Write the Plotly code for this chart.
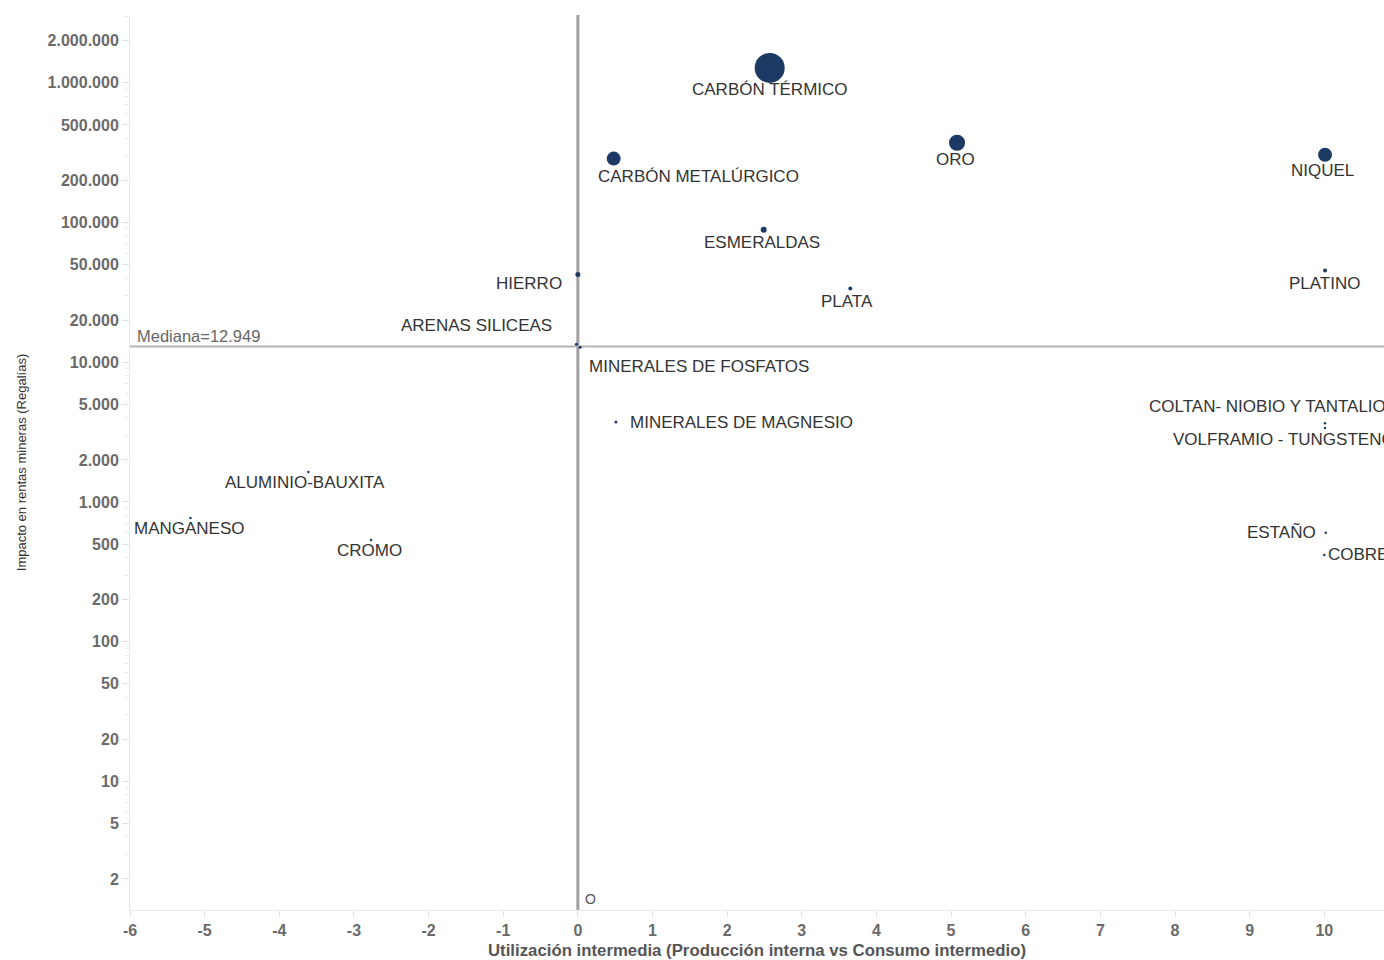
import math
import plotly.graph_objects as go

# ---- data ----
minerales = ["CARBÓN TÉRMICO", "CARBÓN METALÚRGICO", "ORO", "NIQUEL", "ESMERALDAS",
             "HIERRO", "PLATA", "PLATINO", "ARENAS SILICEAS", "MINERALES DE FOSFATOS",
             "MINERALES DE MAGNESIO", "COLTAN- NIOBIO Y TANTALIO", "VOLFRAMIO - TUNGSTENO",
             "ALUMINIO-BAUXITA", "MANGANESO", "CROMO", "ESTAÑO", "COBRE"]
utilizacion = [2.57, 0.48, 5.08, 10.01, 2.49,
               0.0, 3.65, 10.01, -0.02, 0.03,
               0.51, 10.01, 10.01,
               -3.61, -5.19, -2.77, 10.02, 10.0]
regalias = [1280000, 287000, 373000, 306000, 89000,
            42500, 33800, 45400, 13450, 12800,
            3730, 3660, 3380,
            1640, 769, 535, 601, 418]
tamano = [30, 14, 16, 14, 6,
          5, 4, 4, 3, 3,
          3, 2.5, 2.5,
          2.5, 2.5, 2.5, 2.5, 2.5]
mediana = 12949
y_ticks = [2, 5, 10, 20, 50, 100, 200, 500, 1000, 2000, 5000, 10000, 20000,
           50000, 100000, 200000, 500000, 1000000, 2000000]
x_ticks = [-6, -5, -4, -3, -2, -1, 0, 1, 2, 3, 4, 5, 6, 7, 8, 9, 10]

# label placement (pixel offsets, anchor) per mineral
label_pos = {
    "CARBÓN TÉRMICO": (0, -22, "center"),
    "CARBÓN METALÚRGICO": (85, -18, "center"),
    "ORO": (-2, -17, "center"),
    "NIQUEL": (-3, -16, "center"),
    "ESMERALDAS": (-2, -13, "center"),
    "HIERRO": (-14, -9, "right"),
    "PLATA": (-3, -13, "center"),
    "PLATINO": (-1, -13, "center"),
    "ARENAS SILICEAS": (-22, 19, "right"),
    "MINERALES DE FOSFATOS": (7, -19, "left"),
    "MINERALES DE MAGNESIO": (12, 0, "left"),
    "COLTAN- NIOBIO Y TANTALIO": (-178, 17, "left"),
    "VOLFRAMIO - TUNGSTENO": (-154, -11, "left"),
    "ALUMINIO-BAUXITA": (-3, -11, "center"),
    "MANGANESO": (-1, -11, "center"),
    "CROMO": (-2, -11, "center"),
    "ESTAÑO": (-8, 0, "right"),
    "COBRE": (2, 0, "left"),
}

navy = "#1c3a64"
label_font = dict(family="Liberation Sans, Arial, sans-serif", size=17, color="#333333")

fig = go.Figure()
fig.add_trace(go.Scatter(
    x=utilizacion, y=regalias, mode="markers",
    marker=dict(size=tamano, color=navy, opacity=1, line=dict(width=0)),
    text=minerales, hoverinfo="text", showlegend=False,
))

annotations = []
for name, xv, yv in zip(minerales, utilizacion, regalias):
    dx, dy, anc = label_pos[name]
    annotations.append(dict(x=xv, y=math.log10(yv), yref="y", xref="x", text=name, showarrow=False,
                            xshift=dx, yshift=dy, xanchor=anc, yanchor="middle",
                            font=label_font))
annotations.append(dict(x=-6, y=math.log10(mediana), xref="x", yref="y", text="Mediana=12.949",
                        showarrow=False, xanchor="left", yanchor="bottom", xshift=5, yshift=0,
                        font=dict(family="Liberation Sans, Arial, sans-serif", size=16.5, color="#666666")))
annotations.append(dict(x=0, y=math.log10(1.44), xref="x", yref="y", text="O", showarrow=False,
                        xanchor="left", xshift=5,
                        font=dict(family="Liberation Sans, Arial, sans-serif", size=14, color="#555555")))

fig.add_shape(type="line", xref="x", yref="paper", x0=0, x1=0, y0=0, y1=1, layer="below",
              line=dict(color="#a0a0a0", width=3))
fig.add_shape(type="line", xref="paper", yref="y", x0=0, x1=1, y0=mediana, y1=mediana, layer="below",
              line=dict(color="#b4b4b4", width=2))

tick_font = dict(family="Liberation Sans, Arial, sans-serif", size=16, color="#6a6a6a", weight="bold")

fig.update_layout(
    width=1384, height=960,
    margin=dict(l=130, r=0, t=15, b=50),
    plot_bgcolor="white", paper_bgcolor="white",
    annotations=annotations,
    xaxis=dict(
        range=[-6.0, 10.8], tickvals=x_ticks, ticktext=[str(v) for v in x_ticks],
        showgrid=False, zeroline=False, showline=True, linecolor="#e8e8e8", linewidth=1,
        ticks="outside", ticklen=6, tickcolor="#e0e0e0", tickfont=tick_font,
        title=dict(text="Utilización intermedia (Producción interna vs Consumo intermedio)",
                   font=dict(family="Liberation Sans, Arial, sans-serif", size=16.8,
                             color="#555555", weight="bold"), standoff=6),
    ),
    yaxis=dict(
        type="log", range=[0.079, 6.486],
        tickvals=y_ticks,
        ticktext=[f"{v:,}".replace(",", ".") for v in y_ticks],
        showgrid=False, zeroline=False, showline=True, linecolor="#e8e8e8", linewidth=1,
        ticks="outside", ticklen=7, tickcolor="#e0e0e0", tickfont=tick_font,
        minor=dict(ticks="outside", ticklen=4, tickcolor="#ececec", dtick="D1"),
        title=dict(text="Impacto en rentas mineras (Regalías)",
                   font=dict(family="Liberation Sans, Arial, sans-serif",
                             size=13, color="#333333"), standoff=18),
    ),
)

fig.write_html("out.html", config={"displayModeBar": False},
               post_script="document.body.style.margin='0';document.body.style.overflow='hidden';")
